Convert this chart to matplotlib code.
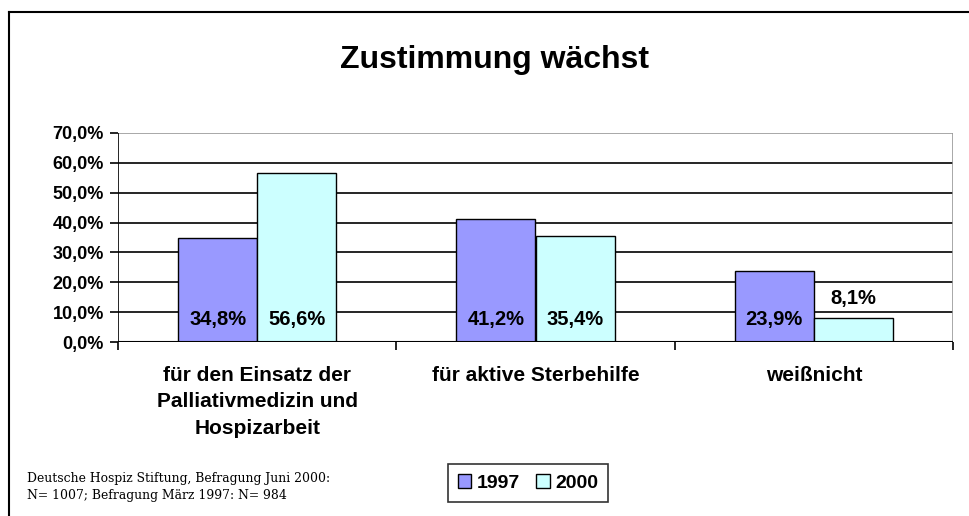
import matplotlib
matplotlib.use("Agg")
import matplotlib.pyplot as plt
from matplotlib.lines import Line2D
from matplotlib.patches import Patch
import numpy as np

categories = ["für den Einsatz der\nPalliativmedizin und\nHospizarbeit",
              "für aktive Sterbehilfe", "weißnicht"]
series_names = ["1997", "2000"]
values_1997 = [34.8, 41.2, 23.9]
values_2000 = [56.6, 35.4, 8.1]
yticks = [0, 10, 20, 30, 40, 50, 60, 70]
ytick_labels = ["0,0%", "10,0%", "20,0%", "30,0%", "40,0%", "50,0%", "60,0%", "70,0%"]
title = "Zustimmung wächst"
footnote = "Deutsche Hospiz Stiftung, Befragung Juni 2000:\nN= 1007; Befragung März 1997: N= 984"

c1997 = "#9999FF"
c2000 = "#CCFFFF"

plt.rcParams['font.family'] = ['Liberation Sans', 'DejaVu Sans']

fig = plt.figure(figsize=(9.7, 5.16), dpi=100)
W, H = 970, 516
ax = fig.add_axes([118 / W, 1 - 342 / H, (953 - 118) / W, (342 - 133) / H])

x = np.arange(len(categories))
bw = 0.284
ax.bar(x - bw / 2, values_1997, width=bw, color=c1997, edgecolor="black", linewidth=1.0, zorder=3)
ax.bar(x + bw / 2, values_2000, width=bw, color=c2000, edgecolor="black", linewidth=1.0, zorder=3)

ax.set_xlim(-0.5, len(categories) - 0.5)
ax.set_ylim(0, 70)

for yv in yticks[1:-1]:
    ax.axhline(yv, color="black", linewidth=1.2, zorder=1)
ax.axhline(70, color="#999999", linewidth=1.2, zorder=1)

for s in ["top", "left", "bottom", "right"]:
    ax.spines[s].set_visible(False)
ax.axvline(len(categories) - 0.5, color="#999999", linewidth=1.2, zorder=1)
ax.axvline(-0.5, color="black", linewidth=1.2, zorder=4)
ax.axhline(0, color="black", linewidth=1.5, zorder=4)

ax.set_yticks(yticks)
ax.set_yticklabels(ytick_labels, fontsize=13, fontweight="bold")
ax.tick_params(axis="y", direction="out", length=6, width=1.2, pad=4, color="black")

ax.set_xticks(np.arange(len(categories) + 1) - 0.5, minor=True)
ax.set_xticks(x)
ax.set_xticklabels(categories, fontsize=15, fontweight="bold", linespacing=1.5)
ax.tick_params(axis="x", which="major", length=0, pad=17)
ax.tick_params(axis="x", which="minor", direction="out", length=6, width=1.2)

for xi, v in zip(x, values_1997):
    ax.text(xi - bw / 2, 7.4, f"{v:.1f}%".replace(".", ","), ha="center", va="center",
            fontsize=14.5, fontweight="bold", zorder=5)
for xi, v in zip(x, values_2000):
    ypos = 7.4 if v > 12 else v + 6.6
    ax.text(xi + bw / 2, ypos, f"{v:.1f}%".replace(".", ","), ha="center", va="center",
            fontsize=14.5, fontweight="bold", zorder=5)

fig.text(495 / W, 1 - 60 / H, title, ha="center", va="center", fontsize=23, fontweight="bold")

fig.text(27 / W, 1 - 487 / H, footnote, ha="left", va="center", fontsize=8.9,
         family=["DejaVu Serif"], linespacing=1.4)

handles = [Patch(facecolor=c1997, edgecolor="black", linewidth=1.0),
           Patch(facecolor=c2000, edgecolor="black", linewidth=1.0)]
leg = fig.legend(handles, series_names, loc="center", bbox_to_anchor=(528 / W, 1 - 483 / H),
                 ncol=2, frameon=True, fancybox=False, edgecolor="black",
                 prop={"size": 14, "weight": "bold"}, handlelength=0.7, handleheight=0.7,
                 handletextpad=0.3, columnspacing=0.8, borderpad=0.5, borderaxespad=0)
leg.get_frame().set_linewidth(1.2)

# outer chart border (left and top edges visible)
fig.add_artist(Line2D([9 / W, 9 / W], [0, 1 - 12 / H], transform=fig.transFigure, color="black", linewidth=1.5))
fig.add_artist(Line2D([9 / W, 1], [1 - 12 / H, 1 - 12 / H], transform=fig.transFigure, color="black", linewidth=1.5))

fig.savefig("out.png", dpi=100)
